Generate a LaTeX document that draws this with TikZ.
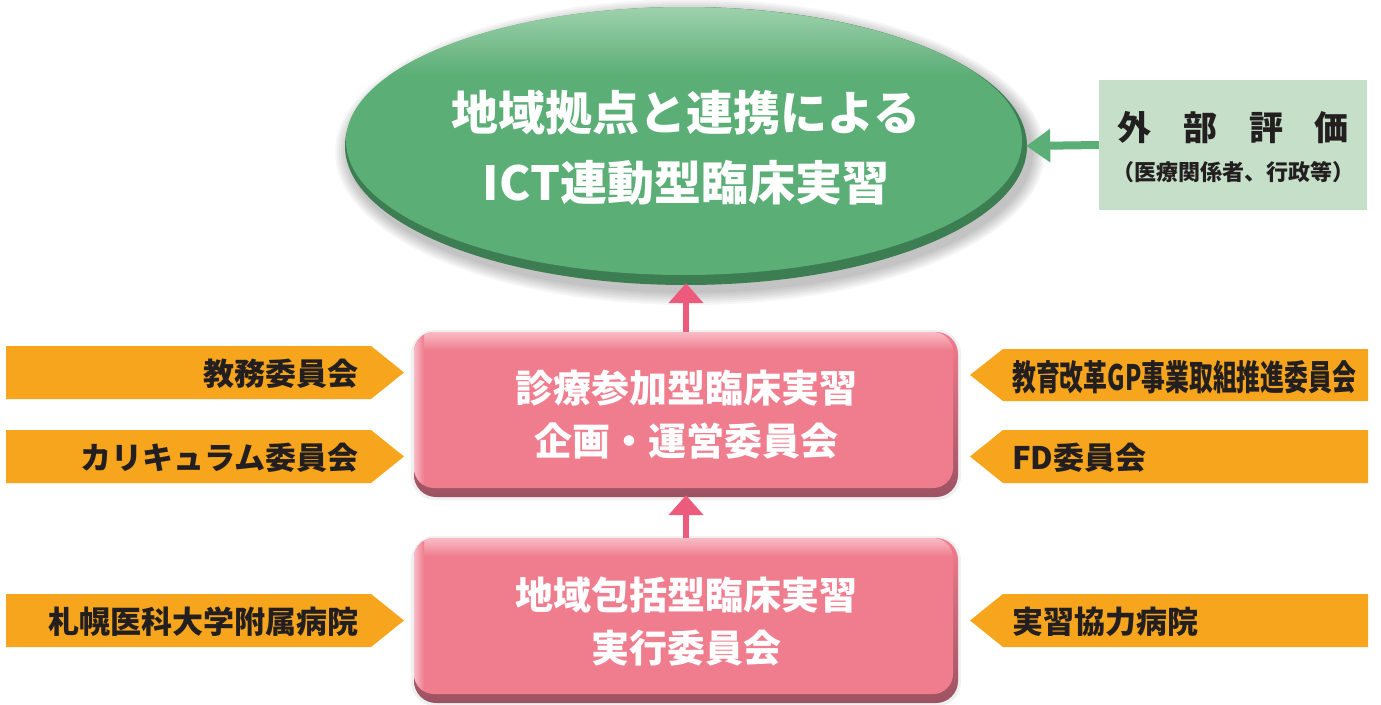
\documentclass[tikz,border=0pt]{standalone}
\usepackage{fontspec}
\newfontfamily\jp{Noto Sans CJK JP}
\usetikzlibrary{shapes.geometric,arrows.meta}
\definecolor{gmain}{HTML}{5BAE76}
\definecolor{gdark}{HTML}{3D7D52}
\definecolor{glight}{HTML}{A5D5B1}
\definecolor{gbox}{HTML}{C5DFC8}
\definecolor{pmain}{HTML}{F07D8E}
\definecolor{pdark}{HTML}{9C5262}
\definecolor{plight}{HTML}{F8BCC6}
\definecolor{parrow}{HTML}{EC5A7C}
\definecolor{orng}{HTML}{F6A51D}
\definecolor{ink}{HTML}{231F20}
\tikzset{
  otext/.style={font=\jp\bfseries\fontsize{31}{36}\selectfont, text=ink, inner sep=0pt},
  ptext/.style={font=\jp\bfseries\fontsize{38}{53}\selectfont, text=white, align=center, inner sep=0pt},
  gtext/.style={font=\jp\bfseries\fontsize{47}{70}\selectfont, align=center, inner sep=0pt},
  flag/.style={fill=orng},
  uparrow/.style={draw=parrow, line width=6pt, -{Triangle[width=34pt,length=20pt]}, shorten >=-2pt},
  garrow/.style={draw=gmain, line width=8pt, -{Triangle[width=32pt,length=24pt]}, shorten >=-1pt},
}
\begin{document}
\begin{tikzpicture}[x=1pt,y=-1pt]
\useasboundingbox (0,0) rectangle (1381,704);
\fill[white] (0,0) rectangle (1381,704);

% ---------- ellipse ----------
\foreach \i in {1,...,7}{
  \fill[black, opacity=0.035] (690,152) ellipse [x radius={(341+2*\i)*1pt}, y radius={(139+2*\i)*1pt}];
}
\fill[gdark] (686,146) ellipse [x radius=341pt, y radius=139pt];
\fill[gmain] (684,141) ellipse [x radius=338pt, y radius=134pt];
\begin{scope}
  \clip (684,141) ellipse [x radius=338pt, y radius=134pt];
  \shade[top color=glight, bottom color=gmain] (340,0) rectangle (1030,75);
\end{scope}
\node[ellipse, minimum width=682pt, minimum height=278pt, inner sep=0pt] (goal) at (686,146) {};
\node[gtext, text=white] (goaltext) at (686,148) {地域拠点と連携による\\ICT連動型臨床実習};

% ---------- external evaluation ----------
\node[fill=gbox, minimum width=268pt, minimum height=130pt, inner sep=0pt] (ext) at (1233,145) {};
\node[font=\jp\bfseries\fontsize{34}{40}\selectfont, text=ink, inner sep=0pt] (exttitle) at (1233,128) {外\hspace{32pt}部\hspace{32pt}評\hspace{32pt}価};
\node[font=\jp\bfseries\fontsize{22}{26}\selectfont, text=ink, inner sep=0pt] (extsub) at (1233,172) {（医療関係者、行政等）};
\draw[garrow] (ext.west) -- (goal.east);

% ---------- pink boxes ----------
\foreach \y in {332,538}{
  \fill[black, opacity=0.06, rounded corners=24] (411,\y-2) rectangle (961,\y+168);
  \shade[rounded corners=22, top color=pmain, bottom color=pdark] (414,\y) rectangle (958,\y+165);
  \fill[pmain, rounded corners=20] (414,\y) rectangle (953,\y+156);
  \begin{scope}
    \clip[rounded corners=20] (414,\y) rectangle (953,\y+156);
    \shade[top color=plight, bottom color=pmain] (414,\y) rectangle (958,\y+18);
    \shade[left color=plight, right color=pmain] (414,\y) rectangle (424,\y+160);
  \end{scope}
}
\node[minimum width=544pt, minimum height=165pt, inner sep=0pt] (plan) at (686,414.5) {};
\node[ptext] (plantext) at (686,415) {診療参加型臨床実習\\企画・運営委員会};
\node[minimum width=544pt, minimum height=165pt, inner sep=0pt] (impl) at (686,620.5) {};
\node[ptext] (impltext) at (686,622) {地域包括型臨床実習\\実行委員会};

\draw[uparrow] (plan.north) -- (goal.south);
\draw[uparrow] (impl.north) -- (plan.south);

% ---------- left flags ----------
\fill[flag] (6,346) -- (371,346) -- (404,372.5) -- (371,399) -- (6,399) -- cycle;
\node[otext, anchor=east] (kyomu) at (359,374) {教務委員会};
\fill[flag] (6,430) -- (371,430) -- (404,456.5) -- (371,483) -- (6,483) -- cycle;
\node[otext, anchor=east] (curri) at (359,458) {カリキュラム委員会};
\fill[flag] (6,594) -- (371,594) -- (404,620.5) -- (371,647) -- (6,647) -- cycle;
\node[otext, anchor=east] (hosp) at (359,622) {札幌医科大学附属病院};

% ---------- right flags ----------
\fill[flag] (970,375) -- (1003,349) -- (1368,349) -- (1368,401) -- (1003,401) -- cycle;
\node[otext, anchor=west] (gp) at (1012,377) {\resizebox{344pt}{30pt}{教育改革GP事業取組推進委員会}};
\fill[flag] (970,456.5) -- (1003,430) -- (1368,430) -- (1368,483) -- (1003,483) -- cycle;
\node[otext, anchor=west] (fd) at (1012,458) {FD委員会};
\fill[flag] (970,620.5) -- (1003,594) -- (1368,594) -- (1368,647) -- (1003,647) -- cycle;
\node[otext, anchor=west] (coop) at (1012,622) {実習協力病院};
\end{tikzpicture}
\end{document}
